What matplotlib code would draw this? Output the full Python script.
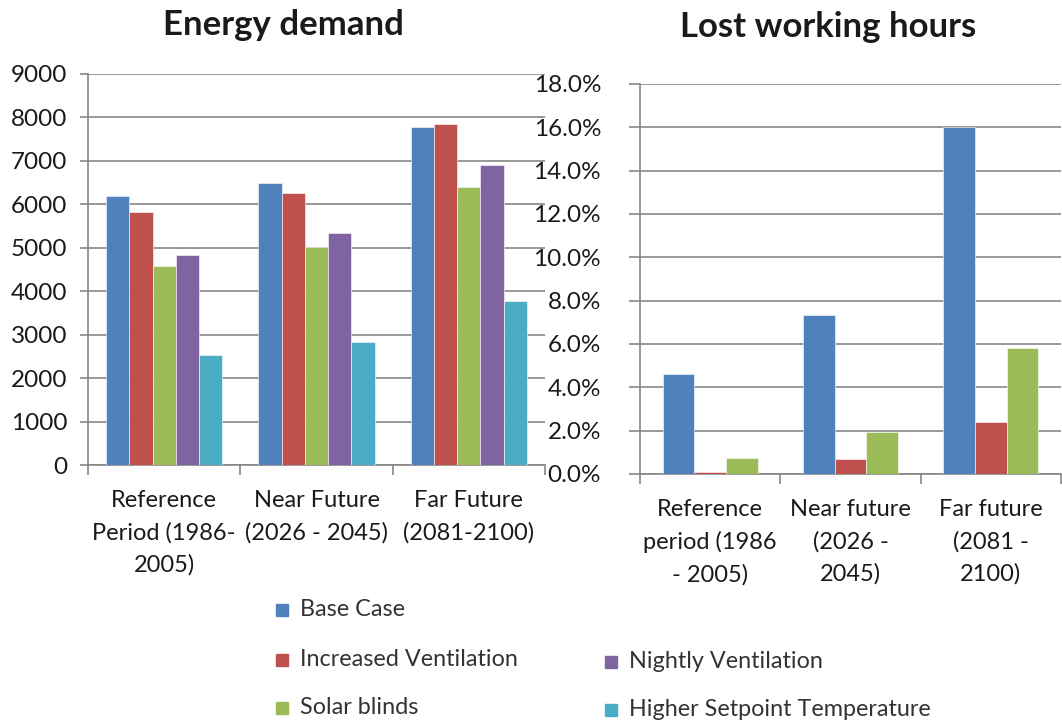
import matplotlib
matplotlib.use("Agg")
import matplotlib.pyplot as plt
import numpy as np
from matplotlib.patches import Rectangle
from matplotlib.ticker import FuncFormatter, MultipleLocator

plt.rcParams['font.family'] = ['Lato', 'DejaVu Sans']

# ---- data ----
energy_categories = ["Reference\nPeriod (1986-\n2005)", "Near Future\n(2026 - 2045)", "Far Future\n(2081-2100)"]
lost_categories = ["Reference\nperiod (1986\n- 2005)", "Near future\n(2026 -\n2045)", "Far future\n(2081 -\n2100)"]

energy_base = [6200, 6500, 7780]
energy_increased = [5820, 6260, 7840]
energy_solar = [4570, 5020, 6390]
energy_nightly = [4840, 5330, 6900]
energy_setpoint = [2530, 2840, 3780]

lost_base = [0.046, 0.0735, 0.160]
lost_increased = [0.001, 0.007, 0.024]
lost_solar = [0.0075, 0.0195, 0.058]

series_names = ["Base Case", "Increased Ventilation", "Solar blinds", "Nightly Ventilation", "Higher Setpoint Temperature"]
colors = {"Base Case": "#4F81BD", "Increased Ventilation": "#C0504D", "Solar blinds": "#9BBB59",
          "Nightly Ventilation": "#8064A2", "Higher Setpoint Temperature": "#4BACC6"}

GRAY = "#868686"
TXT = "#1a1a1a"
W, H = 1062, 725

fig = plt.figure(figsize=(W / 100, H / 100), dpi=100)
ax1 = fig.add_axes([88 / W, (H - 465) / H, (545 - 88) / W, (465 - 74) / H])
ax2 = fig.add_axes([640 / W, (H - 474) / H, (1061 - 640) / W, (474 - 84) / H])


def style(ax, ncat, ypad, xpad):
    for s in ["top", "right"]:
        ax.spines[s].set_visible(False)
    for s in ["left", "bottom"]:
        ax.spines[s].set_color(GRAY)
        ax.spines[s].set_linewidth(1.2)
    ax.set_xlim(-0.5, ncat - 0.5)
    ax.set_xticks(np.arange(ncat + 1) - 0.5, minor=True)
    ax.tick_params(axis='x', which='major', length=0, pad=xpad, labelsize=17, colors=TXT)
    ax.tick_params(axis='x', which='minor', length=7, width=1.2, color=GRAY)
    ax.tick_params(axis='y', which='major', length=6, width=1.2, color=GRAY, labelsize=17.5,
                   colors=TXT, pad=ypad)
    ax.yaxis.grid(True, color=GRAY, linewidth=1.2)
    ax.set_axisbelow(True)
    for lab in ax.get_xticklabels():
        lab.set_linespacing(1.62)


x = np.arange(len(energy_categories))

# ---- energy demand ----
energy_series = [energy_base, energy_increased, energy_solar, energy_nightly, energy_setpoint]
energy_names = ["Base Case", "Increased Ventilation", "Solar blinds", "Nightly Ventilation", "Higher Setpoint Temperature"]
w1 = 0.153
for i, (vals, name) in enumerate(zip(energy_series, energy_names)):
    ax1.bar(x + (i - 2) * w1, vals, w1, color=colors[name], edgecolor='white', linewidth=0.4, zorder=3)
ax1.set_ylim(0, 9000)
ax1.yaxis.set_major_locator(MultipleLocator(1000))
ax1.set_xticks(x)
ax1.set_xticklabels(energy_categories)
style(ax1, 3, 9, 18)

# ---- lost working hours ----
lost_series = [lost_base, lost_increased, lost_solar]
lost_names = ["Base Case", "Increased Ventilation", "Solar blinds"]
w2 = 0.225
for i, (vals, name) in enumerate(zip(lost_series, lost_names)):
    ax2.bar(x + (i - 1) * w2, vals, w2, color=colors[name], edgecolor='white', linewidth=0.4, zorder=3)
ax2.set_ylim(0, 0.18)
ax2.yaxis.set_major_locator(MultipleLocator(0.02))
ax2.yaxis.set_major_formatter(FuncFormatter(lambda v, p: f"{v*100:.1f}%"))
ax2.set_xticks(x)
ax2.set_xticklabels(lost_categories)
style(ax2, 3, 20, 18)
ax2.tick_params(axis='y', which='major', length=8)

# ---- titles ----
fig.text(283 / W, 1 - 25 / H, "Energy demand", fontsize=25, fontweight='bold', color=TXT,
         ha='center', va='center')
fig.text(828 / W, 1 - 27 / H, "Lost working hours", fontsize=25, fontweight='bold', color=TXT,
         ha='center', va='center')

# ---- legend (manual placement) ----
legend_pos = {"Base Case": (276, 610), "Increased Ventilation": (276, 660), "Solar blinds": (276, 708),
              "Nightly Ventilation": (605, 662), "Higher Setpoint Temperature": (605, 710)}
sq = 12
for name in series_names:
    px, py = legend_pos[name]
    fig.add_artist(Rectangle((px / W, (H - py - sq / 2) / H), sq / W, sq / H,
                             transform=fig.transFigure, color=colors[name]))
    fig.text((px + sq + 12) / W, (H - py) / H, name, fontsize=16.8, color="#333333",
             ha='left', va='center')

fig.savefig("out.png", dpi=100)
